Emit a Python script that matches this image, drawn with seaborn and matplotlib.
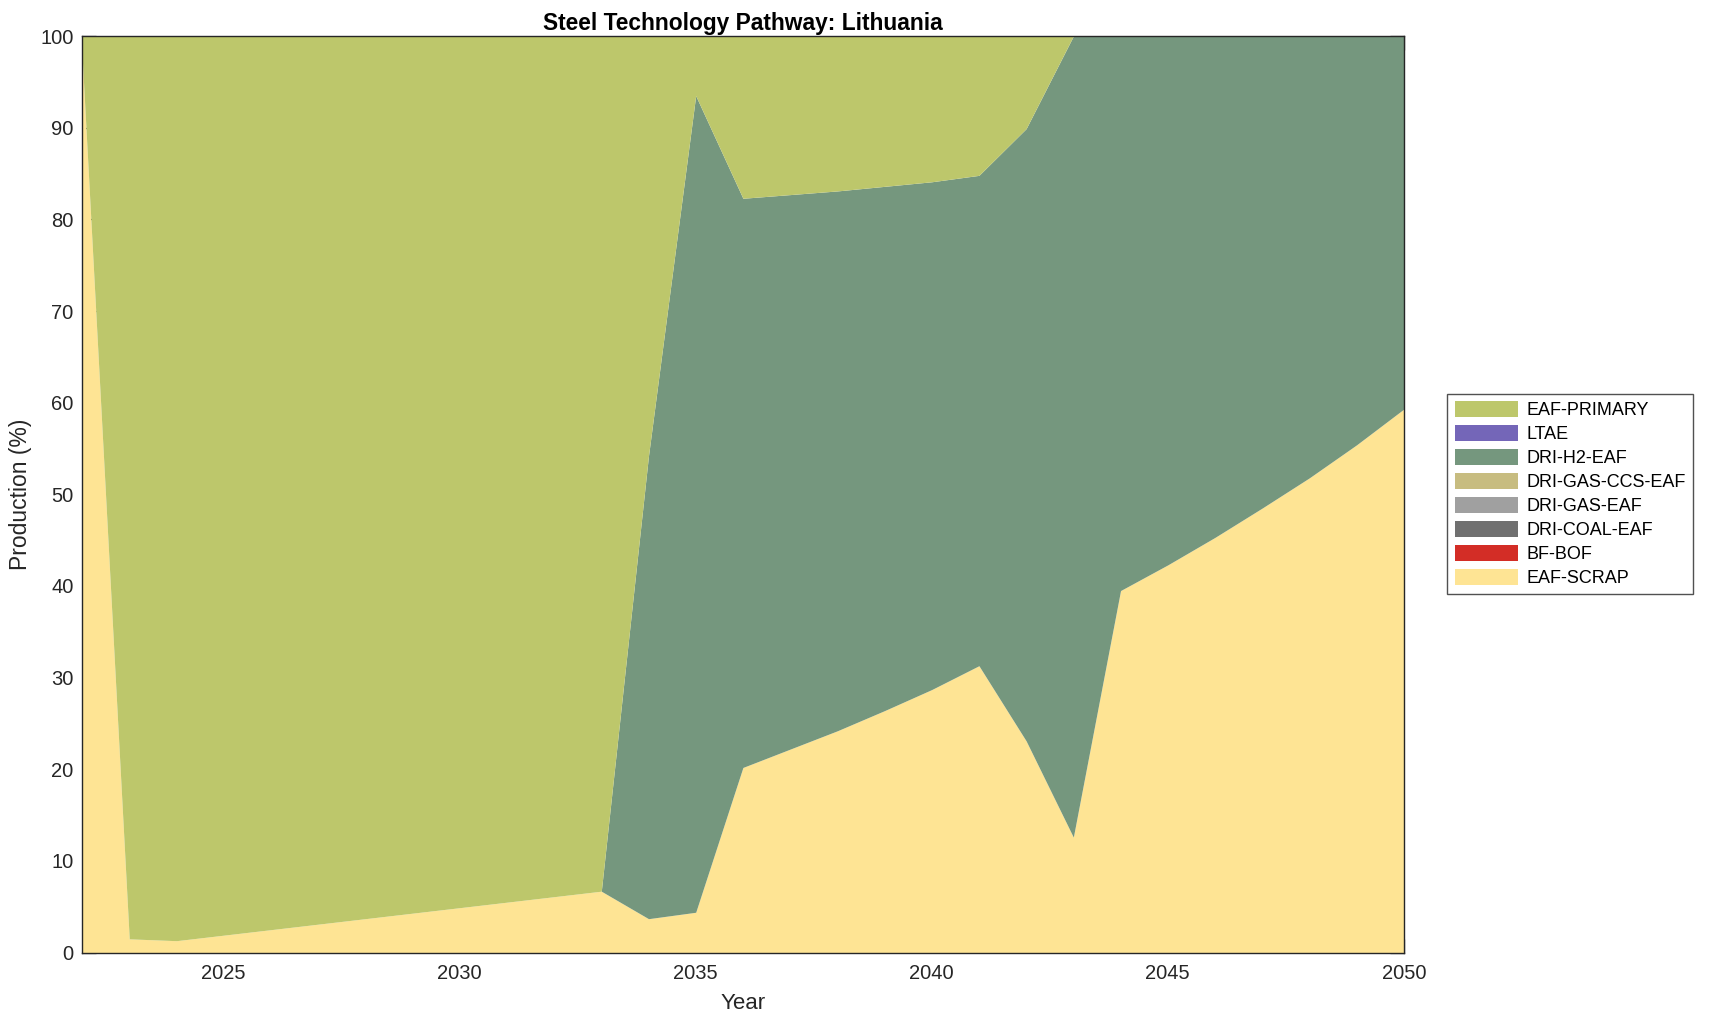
import numpy as np
import pandas as pd
import seaborn as sns
import matplotlib.pyplot as plt

'''
DATA
'''
years = list(range(2022, 2051))

# stacked bottom -> top
eaf_scrap = [98, 1.5, 1.3, 1.9, 2.5, 3.1, 3.7, 4.3, 4.9, 5.5, 6.1, 6.7,
             3.7, 4.4, 20.2, 22.2, 24.2, 26.4, 28.7, 31.3, 23.1, 12.6,
             39.5, 42.3, 45.3, 48.5, 51.8, 55.4, 59.3]
bf_bof = [0] * 29
dri_coal_eaf = [0] * 29
dri_gas_eaf = [0] * 29
dri_gas_ccs_eaf = [0] * 29
# top edge of the DRI-H2-EAF band
h2_top = [98, 1.5, 1.3, 1.9, 2.5, 3.1, 3.7, 4.3, 4.9, 5.5, 6.1, 6.7,
          54.2, 93.5, 82.3, 82.7, 83.1, 83.6, 84.1, 84.8, 89.9, 100,
          100, 100, 100, 100, 100, 100, 100]
ltae = [0] * 29

tech_names = ['EAF-SCRAP', 'BF-BOF', 'DRI-COAL-EAF', 'DRI-GAS-EAF',
              'DRI-GAS-CCS-EAF', 'DRI-H2-EAF', 'LTAE', 'EAF-PRIMARY']
tech_colors = ['#fee494', '#d32d26', '#707070', '#a0a0a0',
               '#c7bc80', '#75977e', '#7466b8', '#bdc76b']

'''
BUILD TABLE
'''
df = pd.DataFrame({'year': years,
                   'EAF-SCRAP': eaf_scrap,
                   'BF-BOF': bf_bof,
                   'DRI-COAL-EAF': dri_coal_eaf,
                   'DRI-GAS-EAF': dri_gas_eaf,
                   'DRI-GAS-CCS-EAF': dri_gas_ccs_eaf,
                   'DRI-H2-EAF': np.array(h2_top) - np.array(eaf_scrap),
                   'LTAE': ltae})
df['EAF-PRIMARY'] = 100 - np.array(h2_top)
df = df.set_index('year')

'''
PLOT
'''
sns.set_theme(style='ticks')
plt.rcParams['font.family'] = ['Liberation Sans', 'DejaVu Sans']

fig, ax = plt.subplots(figsize=(17.09, 10.21), dpi=100)
fig.subplots_adjust(left=0.048, right=0.8214, bottom=0.067, top=0.9647)

palette = sns.color_palette(tech_colors)
polys = ax.stackplot(df.index, [df[c] for c in tech_names],
                     labels=tech_names, colors=palette, linewidth=0)

ax.set_xlim(2022, 2050)
ax.set_ylim(0, 100)
ax.set_xticks(range(2025, 2051, 5))
ax.set_yticks(range(0, 101, 10))
ax.tick_params(axis='both', direction='in', length=10, width=0.9,
               labelsize=14.5, top=True, right=True, color='#262626',
               labelcolor='#262626', pad=6)
ax.tick_params(axis='x', pad=8.5)
for side in ax.spines.values():
    side.set_linewidth(1.0)
    side.set_color('#262626')
    side.set_zorder(5)

ax.set_xlabel('Year', fontsize=16, labelpad=7, color='#262626')
ax.set_ylabel('Production (%)', fontsize=16.5, labelpad=6, color='#262626')
ax.set_title('Steel Technology Pathway: Lithuania', fontsize=16.4,
             fontweight='bold', pad=4, color='black')

handles, labels = ax.get_legend_handles_labels()
leg = ax.legend(handles[::-1], labels[::-1], loc='center left',
                bbox_to_anchor=(1.033, 0.5), borderaxespad=0, fontsize=13,
                frameon=True, fancybox=False, edgecolor='#262626',
                handlelength=3.5, handleheight=0.95, labelspacing=0.33,
                borderpad=0.4, handletextpad=0.5)
leg.get_frame().set_linewidth(1.0)
for t in leg.get_texts():
    t.set_color('black')

plt.savefig('out.png', dpi=100)
